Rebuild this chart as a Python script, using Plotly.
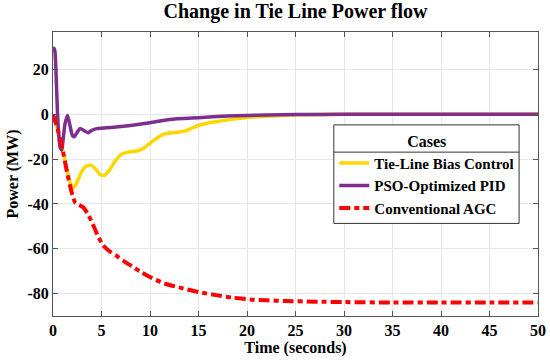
import plotly.graph_objects as go

# ---- data ----
t_pso = [0, 0.1, 0.2, 0.3, 0.45, 0.6, 0.75, 0.9, 1.05, 1.25, 1.5, 1.75, 2.0, 2.2, 2.5, 2.8, 3.2, 3.6,
         4.0, 4.5, 5, 6, 7, 8, 10, 12, 15, 18, 20, 22, 25, 30, 35, 40, 45, 50]
v_pso = [29, 29.5, 28, 20, 2, -10, -15, -16, -11, -4, -0.5, -5, -9.5, -10, -8, -6.3, -7.3, -8.2,
         -7.2, -6.4, -6.2, -5.9, -5.5, -5.0, -3.8, -2.3, -1.5, -0.8, -0.5, -0.3, -0.15, 0, 0, 0, 0, 0]

t_tie = [0, 0.5, 1.0, 1.5, 1.8, 2.05, 2.4, 2.8, 3.3, 3.9, 4.4, 4.9, 5.3, 5.8, 6.4, 7.0, 7.6, 8.2,
         8.8, 9.4, 10, 10.6, 11.2, 11.8, 12.4, 13.0, 13.6, 14.3, 15, 16, 17, 18, 19, 20, 22, 25, 28,
         30, 35, 50]
v_tie = [0, -7, -16, -26, -31, -33, -31, -27, -23.5, -22.7, -24.5, -27, -27.2, -25, -21, -18, -17,
         -16.6, -16.3, -15, -13, -11, -9.3, -8.5, -8.2, -7.9, -7.5, -6.2, -5.0, -3.9, -3.2, -2.5,
         -1.9, -1.4, -0.9, -0.2, -0.05, 0, 0, 0]

t_agc = [0, 0.5, 1.0, 1.5, 2.0, 2.3, 2.7, 3.1, 3.6, 4.1, 4.6, 5.15, 5.8, 6.5, 7.3, 8.25, 9.1, 10,
         11.5, 13.4, 15, 16.8, 18.5, 20.3, 22, 24, 27, 30, 35, 40, 45, 50]
v_agc = [0, -7, -16, -27, -36, -39.5, -40.5, -41.5, -44.5, -49, -54, -58.4, -61, -63, -65.5,
         -68.1, -70.5, -72.6, -75.5, -77.7, -79.3, -80.7, -81.8, -82.6, -83, -83.3, -83.6, -83.8,
         -84, -84, -84, -84]

x_ticks = [0, 5, 10, 15, 20, 25, 30, 35, 40, 45, 50]
y_ticks = [-80, -60, -40, -20, 0, 20]
y_tick_labels = ["-80", "-60", "-40", "-20", "0", "20"]

FONT = "Liberation Serif"
AX = "#555555"

fig = go.Figure()
fig.add_trace(go.Scatter(x=t_tie, y=v_tie, mode="lines", name="Tie-Line Bias Control",
                         line=dict(color="#FFD700", width=3.5, shape="spline", smoothing=0.6)))
fig.add_trace(go.Scatter(x=t_pso, y=v_pso, mode="lines", name="PSO-Optimized PID",
                         line=dict(color="#7E2F8E", width=3.5, shape="spline", smoothing=0.6)))
fig.add_trace(go.Scatter(x=t_agc, y=v_agc, mode="lines", name="Conventional AGC",
                         line=dict(color="#FF0000", width=4, dash="11px,4px,5px,4px",
                                   shape="spline", smoothing=0.6)))

# legend frame with a separator under the title (MATLAB style)
fig.add_shape(type="rect", xref="paper", yref="paper", x0=0.579, x1=0.961, y0=0.326, y1=0.673,
              fillcolor="white", line=dict(color="#333333", width=1), layer="above")
fig.add_shape(type="line", xref="paper", yref="paper", x0=0.579, x1=0.961, y0=0.577, y1=0.577,
              line=dict(color="#333333", width=1), layer="above")

fig.update_layout(
    width=550, height=363,
    margin=dict(l=53, r=12, t=32, b=47),
    paper_bgcolor="white", plot_bgcolor="white",
    font=dict(family=FONT, size=14, color="black"),
    title=dict(text="<b>Change in Tie Line Power flow</b>", x=0.5, xref="paper",
               y=0.99, yanchor="top", font=dict(family=FONT, size=20, color="black")),
    showlegend=True,
    legend=dict(
        x=0.58, y=0.669, xanchor="left", yanchor="top",
        bgcolor="rgba(255,255,255,0)", borderwidth=0,
        font=dict(family=FONT, size=15, color="black", weight="bold"),
        title=dict(text="<b>Cases</b>", side="top center",
                   font=dict(family=FONT, size=16, color="black")),
        itemwidth=30, tracegroupgap=0,
    ),
    xaxis=dict(
        range=[0, 50], tickvals=x_ticks, ticks="inside", ticklen=5, tickcolor=AX,
        showline=True, linecolor=AX, linewidth=1, mirror="ticks", automargin=False,
        showgrid=True, gridcolor="#e6e6e6", gridwidth=1, zeroline=False,
        tickfont=dict(family=FONT, size=16, color="black", weight="bold"),
        title=dict(text="<b>Time (seconds)</b>", standoff=2,
                   font=dict(family=FONT, size=16, color="black")),
    ),
    yaxis=dict(
        range=[-90, 36.7], tickvals=y_ticks, ticktext=y_tick_labels, ticks="inside",
        ticklen=5, tickcolor=AX, automargin=False,
        showline=True, linecolor=AX, linewidth=1, mirror="ticks",
        showgrid=True, gridcolor="#e6e6e6", gridwidth=1, zeroline=False,
        tickfont=dict(family=FONT, size=16, color="black", weight="bold"),
        title=dict(text="<b>Power (MW)</b>", standoff=4,
                   font=dict(family=FONT, size=16, color="black")),
    ),
)

fig.write_html("out.html", config={"displayModeBar": False},
               post_script="document.body.style.margin='0';")
